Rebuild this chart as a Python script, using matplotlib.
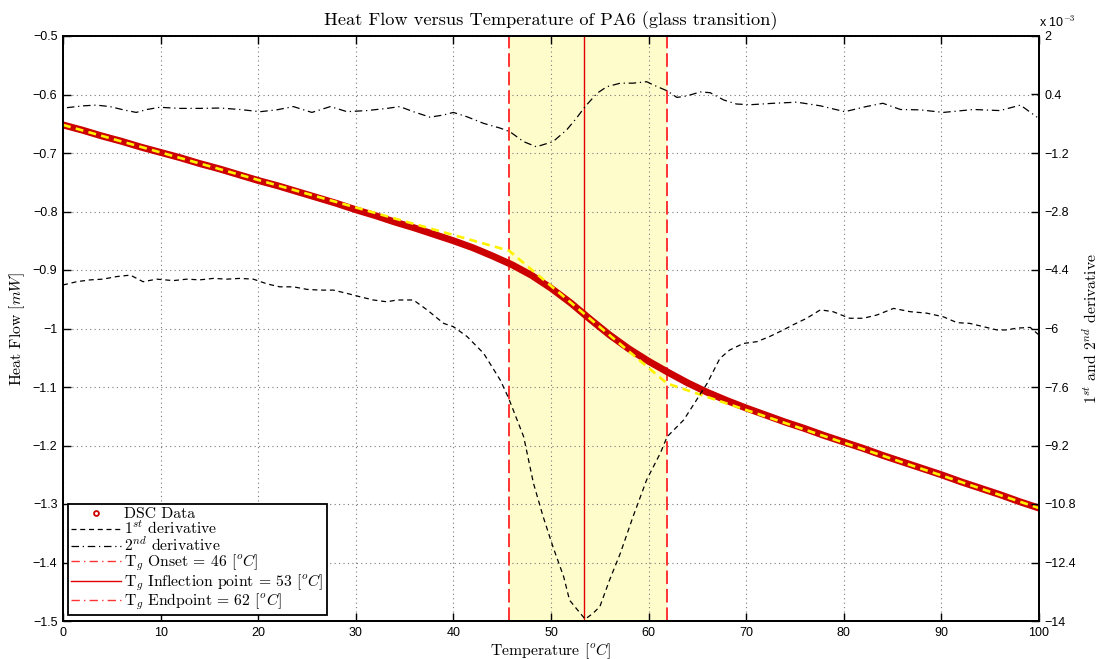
import numpy as np
import matplotlib
matplotlib.use('Agg')
import matplotlib.pyplot as plt
from matplotlib.lines import Line2D
from matplotlib.ticker import FuncFormatter, MultipleLocator

plt.rcParams['font.family'] = ['Liberation Sans', 'DejaVu Sans']
plt.rcParams['mathtext.fontset'] = 'cm'

### datos

# DSC heat flow [mW]
temp_dsc = [0, 2, 4, 6, 8, 10, 12, 14, 16, 18, 20, 22, 24, 26, 28, 30, 32, 34, 36, 38,
            40, 42, 44, 46, 48, 50, 52, 54, 56, 58, 60, 62, 64, 66, 68, 70, 72, 74, 76, 78,
            80, 82, 84, 86, 88, 90, 92, 94, 96, 98, 100]
heat_flow = [-0.652, -0.661, -0.671, -0.680, -0.690, -0.699, -0.708, -0.718, -0.727, -0.737,
             -0.747, -0.756, -0.766, -0.776, -0.786, -0.797, -0.807, -0.818, -0.828, -0.839,
             -0.850, -0.862, -0.876, -0.891, -0.909, -0.931, -0.956, -0.984, -1.011, -1.035,
             -1.056, -1.075, -1.093, -1.109, -1.123, -1.136, -1.148, -1.160, -1.171, -1.183,
             -1.194, -1.205, -1.217, -1.228, -1.239, -1.250, -1.262, -1.273, -1.284, -1.296,
             -1.307]

# tangentes (amarillo)
temp_tan = [0, 45.7, 61.9, 100]
hf_tan = [-0.652, -0.867, -1.094, -1.307]

# 1ra derivada (x 1e-3)
temp_d1 = [0.0, 1.4, 2.8, 4.1, 5.5, 6.9, 8.2, 9.6, 11.3, 12.7, 14.0, 15.4, 16.8, 18.1, 19.5,
           20.9, 22.2, 23.6, 25.0, 26.3, 27.7, 29.1, 30.4, 31.8, 33.2, 34.2, 35.9, 37.3, 39.0,
           40.0, 41.4, 43.1, 44.8, 45.6, 46.0, 47.2, 48.2, 49.2, 50.2, 51.3, 51.9, 53.0, 53.5,
           54.3, 55.0, 56.0, 57.1, 58.4, 59.8, 61.2, 61.9, 63.6, 64.9, 66.0, 67.3, 68.3, 69.7,
           71.1, 72.4, 73.8, 74.8, 76.2, 77.6, 78.9, 80.6, 82.0, 83.4, 85.1, 86.8, 88.5, 90.2,
           91.6, 92.9, 94.3, 95.7, 96.7, 97.7, 99.1, 100.0]
deriv1 = [-4.81, -4.72, -4.67, -4.65, -4.58, -4.54, -4.72, -4.65, -4.69, -4.65, -4.67, -4.63,
          -4.65, -4.63, -4.65, -4.78, -4.86, -4.86, -4.93, -4.95, -4.95, -5.04, -5.13, -5.22,
          -5.27, -5.22, -5.22, -5.49, -5.86, -5.95, -6.22, -6.68, -7.41, -7.87, -8.14, -8.96,
          -10.23, -11.15, -11.97, -12.79, -13.43, -13.79, -13.95, -13.79, -13.61, -12.88,
          -12.15, -11.15, -10.14, -9.41, -8.96, -8.50, -7.96, -7.50, -6.82, -6.59, -6.41,
          -6.36, -6.22, -6.04, -5.90, -5.72, -5.49, -5.54, -5.72, -5.72, -5.63, -5.45, -5.54,
          -5.58, -5.68, -5.84, -5.86, -5.95, -6.04, -6.04, -5.99, -5.97, -6.18]

# 2da derivada (x 1e-3)
temp_d2 = [0.4, 2.1, 3.4, 4.8, 6.2, 7.5, 8.6, 9.9, 12.0, 14.0, 16.1, 18.1, 20.2, 21.9, 23.6,
           25.5, 27.4, 29.1, 31.1, 33.2, 34.5, 35.9, 37.6, 39.0, 40.0, 41.4, 43.1, 44.8, 45.8,
           47.2, 48.5, 50.2, 51.6, 52.6, 53.5, 54.7, 55.7, 57.1, 58.4, 59.8, 60.5, 61.9, 62.9,
           63.9, 65.3, 66.3, 67.7, 69.0, 70.4, 72.8, 75.2, 77.6, 80.1, 82.3, 84.0, 85.8, 87.8,
           90.2, 93.3, 96.0, 98.1, 99.8]
deriv2 = [0.04, 0.09, 0.11, 0.07, -0.02, -0.09, -0.01, 0.05, 0.02, 0.02, 0.03, -0.01, -0.07,
          -0.02, 0.07, -0.09, 0.07, -0.07, -0.04, 0.02, 0.07, -0.07, -0.22, -0.16, -0.09,
          -0.21, -0.39, -0.52, -0.62, -0.89, -1.03, -0.89, -0.57, -0.25, 0.07, 0.43, 0.61,
          0.71, 0.71, 0.75, 0.66, 0.50, 0.32, 0.36, 0.47, 0.45, 0.25, 0.14, 0.12, 0.16, 0.19,
          0.09, -0.07, 0.07, 0.16, -0.01, -0.02, -0.09, -0.01, -0.04, 0.11, -0.22]

tg_onset = 45.7
tg_inflection = 53.4
tg_end = 61.9

cm_font = 'cmr10'

fig = plt.figure(figsize=(11, 6.59), dpi=100)
ax = fig.add_axes([63/1100, 38/659, 976/1100, 585/659])
ax2 = ax.twinx()

ax.axvspan(tg_onset, tg_end, color='#FFFCCC', zorder=0.3, lw=0)
ax.set_axisbelow(True)
ax.grid(True, linestyle=(0, (1, 3)), color='#7a7a7a', linewidth=0.8)

ax.axvline(tg_onset, color='#FF3333', lw=1.4, linestyle=(0, (7, 2.5)), zorder=2)
ax.axvline(tg_end, color='#FF3333', lw=1.4, linestyle=(0, (7, 2.5)), zorder=2)
ax.axvline(tg_inflection, color='#E00000', lw=1.0, zorder=2)

ax.plot(temp_dsc, heat_flow, color='#CC0000', lw=5, solid_capstyle='round', zorder=3)
ax.plot(temp_tan, hf_tan, color='#FFF200', lw=1.9, linestyle=(0, (3, 2)), zorder=4)

ax2.plot(temp_d1, np.array(deriv1)*1e-3, color='k', lw=0.9, linestyle=(0, (4, 3)))
ax2.plot(temp_d2, np.array(deriv2)*1e-3, color='k', lw=0.9, linestyle=(0, (6, 3, 1, 3)))

ax.set_xlim(0, 100)
ax.set_ylim(-1.5, -0.5)
ax2.set_ylim(-14e-3, 2e-3)
ax.xaxis.set_major_locator(MultipleLocator(10))
ax.yaxis.set_major_locator(MultipleLocator(0.1))
ax2.set_yticks(np.linspace(-14e-3, 2e-3, 11))

def fmt_left(v, p):
    return ('%g' % round(v, 2)).replace('-', '\u2212')

def fmt_right(v, p):
    return ('%g' % round(v*1e3, 1)).replace('-', '\u2212')

ax.yaxis.set_major_formatter(FuncFormatter(fmt_left))
ax2.yaxis.set_major_formatter(FuncFormatter(fmt_right))

ax.tick_params(direction='in', length=6, width=1, top=True, right=False, labelsize=9, pad=4)
ax2.tick_params(direction='in', length=6, width=1, labelsize=9, pad=4)
for a in (ax, ax2):
    for s in a.spines.values():
        s.set_linewidth(1.3)

ax.set_title('Heat Flow versus Temperature of PA6 (glass transition)', fontfamily=cm_font,
             fontsize=13.2, pad=8)
ax.set_xlabel(r'Temperature [$^oC$]', fontfamily=cm_font, fontsize=11.3, labelpad=2)
ax.set_ylabel(r'Heat Flow [$mW$]', fontfamily=cm_font, fontsize=11.3, labelpad=4)
ax2.set_ylabel(r'1$^{st}$ and 2$^{nd}$ derivative', fontfamily=cm_font, fontsize=11.3, labelpad=4)
ax2.text(1.0, 1.01, r'x 10$^{-3}$', transform=ax2.transAxes, fontsize=9, ha='left', va='bottom')

handles = [
    Line2D([], [], ls='none', marker='o', ms=3.5, mfc='white', mec='#CC0000', mew=1.3),
    Line2D([], [], color='k', lw=0.9, ls=(0, (4, 3))),
    Line2D([], [], color='k', lw=0.9, ls=(0, (6, 3, 1, 3))),
    Line2D([], [], color='#FF3333', lw=1.0, ls=(0, (6, 3, 1, 3))),
    Line2D([], [], color='#E00000', lw=1.0),
    Line2D([], [], color='#FF3333', lw=1.0, ls=(0, (6, 3, 1, 3))),
]
labels = [
    'DSC Data',
    r'1$^{st}$ derivative',
    r'2$^{nd}$ derivative',
    r'T$_g$ Onset = %d [$^oC$]' % round(tg_onset),
    r'T$_g$ Inflection point = %d [$^oC$]' % round(tg_inflection),
    r'T$_g$ Endpoint = %d [$^oC$]' % round(tg_end),
]
leg = ax2.legend(handles, labels, loc='lower left', bbox_to_anchor=(0.005, 0.01),
                 prop={'family': cm_font, 'size': 11.3}, frameon=True, fancybox=False,
                 framealpha=1, edgecolor='k', handlelength=3.2, handletextpad=0.2,
                 labelspacing=-0.08, borderpad=0.2, borderaxespad=0)
leg.get_frame().set_linewidth(1.3)

fig.savefig('out.png', dpi=100)
